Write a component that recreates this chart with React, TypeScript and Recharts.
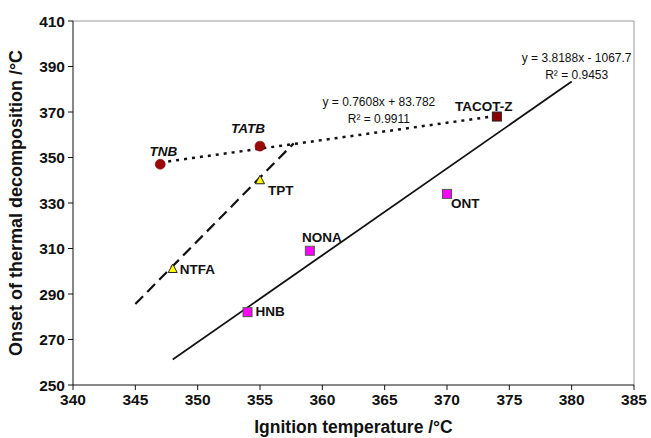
import React from 'react'
import {
  ScatterChart,
  Scatter,
  XAxis,
  YAxis,
  ReferenceLine,
} from 'recharts'

const xTicks = [340, 345, 350, 355, 360, 365, 370, 375, 380, 385]
const yTicks = [250, 270, 290, 310, 330, 350, 370, 390, 410]

// compounds
const circlePts = [
  { name: 'TNB', x: 347, y: 347 },
  { name: 'TATB', x: 355, y: 355 },
]
const tacotPts = [{ name: 'TACOT-Z', x: 374, y: 368 }]
const trianglePts = [
  { name: 'TPT', x: 355, y: 340 },
  { name: 'NTFA', x: 348, y: 301 },
]
const squarePts = [
  { name: 'HNB', x: 354, y: 282 },
  { name: 'NONA', x: 359, y: 309 },
  { name: 'ONT', x: 370, y: 334 },
]

// trend lines
const solidFit = [
  { x: 348, y: 261.2 },
  { x: 380, y: 383.4 },
]
const dottedFit = [
  { x: 347, y: 347.8 },
  { x: 374, y: 368.3 },
]
const dashedFit = [
  { x: 345, y: 285.6 },
  { x: 357.7, y: 356.2 },
]

// equation text, anchored to the end of its fit line
const solidEq = [{ x: 380, y: 383.4, lines: ['y = 3.8188x - 1067.7', 'R² = 0.9453'] }]
const dottedEq = [{ x: 374, y: 368.3, lines: ['y = 0.7608x + 83.782', 'R² = 0.9911'] }]

const FONT = '"Liberation Sans", Arial, sans-serif'

const labelPos: Record<string, { dx: number; dy: number; anchor: string; italic?: boolean }> = {
  TNB: { dx: 3, dy: -8, anchor: 'middle', italic: true },
  TATB: { dx: -12, dy: -13, anchor: 'middle', italic: true },
  'TACOT-Z': { dx: -13, dy: -6, anchor: 'middle' },
  TPT: { dx: 8, dy: 15, anchor: 'start' },
  NTFA: { dx: 7, dy: 5, anchor: 'start' },
  HNB: { dx: 8, dy: 4, anchor: 'start' },
  NONA: { dx: 12, dy: -9, anchor: 'middle' },
  ONT: { dx: 4, dy: 14, anchor: 'start' },
}

const PointLabel = ({ cx, cy, name }: { cx: number; cy: number; name: string }) => {
  const p = labelPos[name]
  if (!p) return null
  return (
    <text
      x={cx + p.dx}
      y={cy + p.dy}
      textAnchor={p.anchor as any}
      fontFamily={FONT}
      fontSize={13.5}
      fontWeight="bold"
      fontStyle={p.italic ? 'italic' : 'normal'}
      fill="#111"
    >
      {name}
    </text>
  )
}

const circleShape = (props: any) => (
  <g>
    <circle cx={props.cx} cy={props.cy} r={5} fill="#9a0a0a" stroke="#700" strokeWidth={0.5} />
    <PointLabel cx={props.cx} cy={props.cy} name={props.payload.name} />
  </g>
)

const tacotShape = (props: any) => (
  <g>
    <rect x={props.cx - 4.5} y={props.cy - 4.5} width={9} height={9} fill="#8b0000" stroke="#222" strokeWidth={1} />
    <PointLabel cx={props.cx} cy={props.cy} name={props.payload.name} />
  </g>
)

const squareShape = (props: any) => (
  <g>
    <rect x={props.cx - 4.5} y={props.cy - 4.5} width={9} height={9} fill="#ff00ff" stroke="#555" strokeWidth={1} />
    <PointLabel cx={props.cx} cy={props.cy} name={props.payload.name} />
  </g>
)

const triangleShape = (props: any) => {
  const { cx, cy } = props
  return (
    <g>
      <polygon
        points={`${cx},${cy - 5} ${cx - 4.5},${cy + 3.5} ${cx + 4.5},${cy + 3.5}`}
        fill="#ffff00"
        stroke="#222"
        strokeWidth={1}
      />
      <PointLabel cx={cx} cy={cy} name={props.payload.name} />
    </g>
  )
}

const noShape = () => <g />

const eqShape = (dx: number, dy: number) => (props: any) => (
  <text fontFamily={FONT} fontSize={12} fill="#111" textAnchor="middle">
    {props.payload.lines.map((l: string, i: number) => (
      <tspan key={i} x={props.cx + dx} y={props.cy + dy + i * 17}>
        {l}
      </tspan>
    ))}
  </text>
)

const tickStyle = { fontFamily: FONT, fontSize: 15.5, fontWeight: 'bold', fill: '#111' }

const YTitle = (props: any) => {
  const vb = props.viewBox
  const cy = vb.y + vb.height / 2
  return (
    <text
      x={22}
      y={cy}
      transform={`rotate(-90, 22, ${cy})`}
      textAnchor="middle"
      fontFamily={FONT}
      fontSize={18}
      fontWeight="bold"
      fill="#111"
    >
      Onset of thermal decomposition /°C
    </text>
  )
}

const XTitle = (props: any) => {
  const vb = props.viewBox
  return (
    <text
      x={vb.x + vb.width / 2}
      y={433}
      textAnchor="middle"
      fontFamily={FONT}
      fontSize={17.5}
      fontWeight="bold"
      fill="#111"
    >
      Ignition temperature /°C
    </text>
  )
}

export default function App() {
  return (
    <div style={{ position: 'absolute', left: 0, top: 0, background: '#fff' }}>
      <ScatterChart width={651} height={438} margin={{ top: 21, right: 17, left: 13, bottom: 8 }}>
        <XAxis
          type="number"
          dataKey="x"
          domain={[340, 385]}
          ticks={xTicks}
          interval={0}
          height={45}
          stroke="#111"
          tick={tickStyle}
          tickSize={5}
          tickMargin={4}
          label={{ content: XTitle }}
        />
        <YAxis
          type="number"
          dataKey="y"
          domain={[250, 410]}
          ticks={yTicks}
          interval={0}
          width={60}
          stroke="#111"
          tick={tickStyle}
          tickSize={5}
          tickMargin={3}
          label={{ content: YTitle }}
        />
        <ReferenceLine y={410} stroke="#999" strokeWidth={1} />
        <ReferenceLine x={385} stroke="#999" strokeWidth={1} />

        <Scatter data={solidFit} shape={noShape} line={{ stroke: '#111', strokeWidth: 1.8 }} isAnimationActive={false} />
        <Scatter
          data={dottedFit}
          shape={noShape}
          line={{ stroke: '#111', strokeWidth: 2.5, strokeDasharray: '3 5' }}
          isAnimationActive={false}
        />
        <Scatter
          data={dashedFit}
          shape={noShape}
          line={{ stroke: '#111', strokeWidth: 2.2, strokeDasharray: '11 6' }}
          isAnimationActive={false}
        />

        <Scatter data={circlePts} shape={circleShape} isAnimationActive={false} />
        <Scatter data={tacotPts} shape={tacotShape} isAnimationActive={false} />
        <Scatter data={trianglePts} shape={triangleShape} isAnimationActive={false} />
        <Scatter data={squarePts} shape={squareShape} isAnimationActive={false} />

        <Scatter data={solidEq} shape={eqShape(5, -20)} isAnimationActive={false} />
        <Scatter data={dottedEq} shape={eqShape(-118, -10)} isAnimationActive={false} />
      </ScatterChart>
    </div>
  )
}
